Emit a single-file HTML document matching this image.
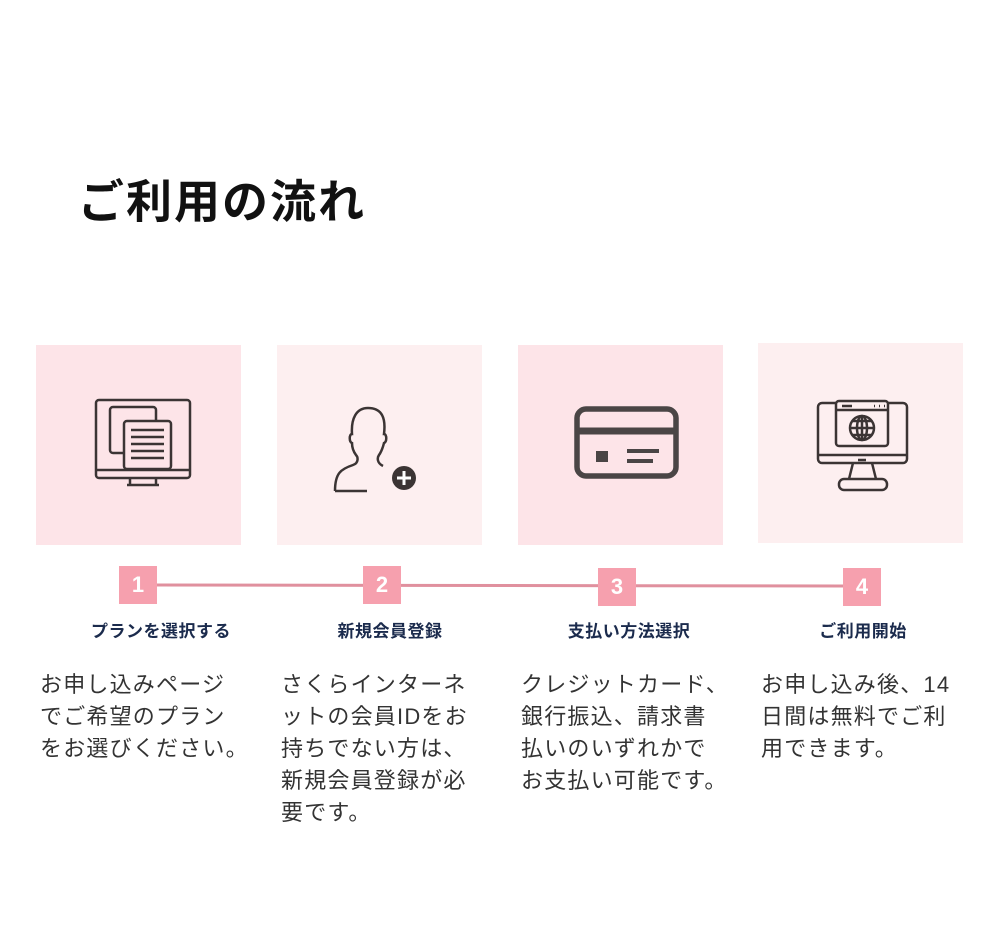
<!DOCTYPE html>
<html><head><meta charset="utf-8"><style>
body{margin:0;width:1000px;height:936px;background:#fff;position:relative;font-family:"Liberation Sans","Noto Sans CJK JP",sans-serif;overflow:hidden}
.a{position:absolute}
h1{position:absolute;left:78px;top:166px;margin:0;font-size:46px;font-weight:bold;color:#111;letter-spacing:2px}
.box{position:absolute;width:205px;height:200px;top:345px}
.num{position:absolute;width:38px;height:38px;background:#f6a0ae;color:#fff;font-weight:bold;font-size:22px;text-align:center;line-height:38px}
.lab{position:absolute;width:240px;text-align:center;font-weight:bold;font-size:17px;letter-spacing:0.5px;color:#1b2b4d;top:617px}
.txt{position:absolute;top:669px;width:230px;white-space:nowrap;font-size:22px;letter-spacing:1.2px;line-height:32px;color:#333}
</style></head><body>
<h1>ご利用の流れ</h1>
<div class="box" style="left:36px;background:#fde4e8"></div>
<div class="box" style="left:277px;background:#fdeff0"></div>
<div class="box" style="left:518px;background:#fde4e8"></div>
<div class="box" style="left:758px;top:343px;background:#fdeff0"></div>
<svg class="a" style="left:0;top:0" width="1000" height="936" fill="none" stroke="#3b3434" stroke-width="2.5">
<rect x="96" y="400" width="94" height="78" rx="3"/>
<line x1="96" y1="470" x2="190" y2="470"/>
<path d="M130 478v6M156 478v6M127 485h32"/>
<rect x="110" y="407" width="46" height="46" rx="3"/>
<rect x="124" y="421" width="47" height="48" rx="3" fill="#fde4e8"/>
<path d="M131 430h33M131 437h33M131 444h33M131 451h33M131 458h33"/>
<path d="M335 491c0-18 6-22 18-26 6-2 5-8 3-10-3-4-4-8-4-12-3-1-3-9 0-9-1-15 4-26 16-26 14 0 18 10 16 26 3 0 3 8 0 9-1 4-2 8-5 12-2 3-2 8 4 11M335 491h32"/>
<circle cx="404" cy="478" r="12" fill="#3b3434" stroke="none"/>
<path d="M404 471v14M397 478h14" stroke="#fff" stroke-width="3"/>
<rect x="577" y="409" width="99" height="67" rx="9" stroke-width="5.5" stroke="#4a4545"/>
<line x1="577" y1="431" x2="676" y2="431" stroke="#4a4545" stroke-width="7"/>
<rect x="596" y="451" width="12" height="11" fill="#4a4545" stroke="none"/>
<path d="M627 451h32M627 461h26" stroke="#4a4545" stroke-width="4"/>
<rect x="818" y="403" width="89" height="60" rx="4"/>
<line x1="818" y1="455" x2="907" y2="455"/>
<path d="M853 463l-4 16M872 463l4 16"/>
<rect x="839" y="479" width="48" height="11" rx="5"/>
<rect x="836" y="401" width="52" height="45" rx="3" fill="#fdeff0"/>
<line x1="836" y1="410" x2="888" y2="410"/>
<circle cx="862" cy="428" r="12"/>
<path d="M850 428h24M862 416v24M852 421h20M852 435h20"/>
<ellipse cx="862" cy="428" rx="5" ry="12"/>
<line x1="858" y1="460" x2="866" y2="460"/>
<path d="M842 406h10M874 406h1M879 406h1M884 406h1"/>
<line x1="157" y1="585" x2="843" y2="586" stroke="#e0909e" stroke-width="3"/>
</svg>
<div class="num" style="left:119px;top:566px">1</div>
<div class="num" style="left:363px;top:566px">2</div>
<div class="num" style="left:598px;top:568px">3</div>
<div class="num" style="left:843px;top:568px">4</div>
<div class="lab" style="left:41px">プランを選択する</div>
<div class="lab" style="left:270px">新規会員登録</div>
<div class="lab" style="left:509px">支払い方法選択</div>
<div class="lab" style="left:743px">ご利用開始</div>
<div class="txt" style="left:40px">お申し込みページ<br>でご希望のプラン<br>をお選びください。</div>
<div class="txt" style="left:281px">さくらインターネ<br>ットの会員IDをお<br>持ちでない方は、<br>新規会員登録が必<br>要です。</div>
<div class="txt" style="left:521px">クレジットカード、<br>銀行振込、請求書<br>払いのいずれかで<br>お支払い可能です。</div>
<div class="txt" style="left:761px">お申し込み後、14<br>日間は無料でご利<br>用できます。</div>
</body></html>
